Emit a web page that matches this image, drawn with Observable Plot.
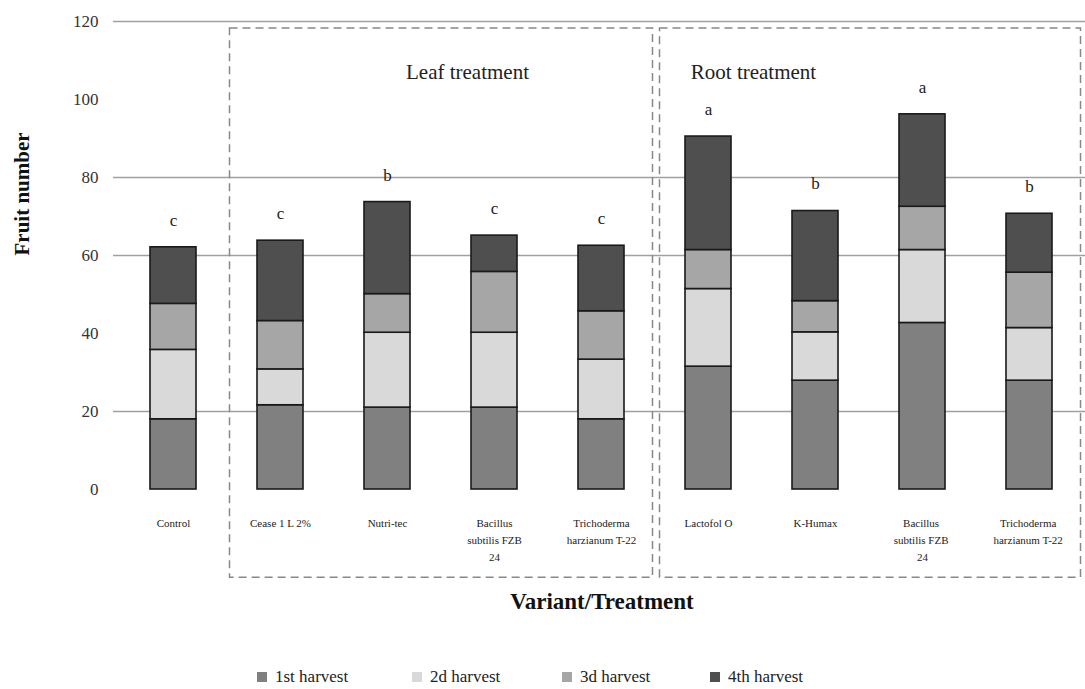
<!DOCTYPE html>
<html>
<head>
<meta charset="utf-8">
<script src="https://cdn.jsdelivr.net/npm/d3@7"></script>
<script src="https://cdn.jsdelivr.net/npm/@observablehq/plot@0.6"></script>
<style>
  body { margin: 0; background: #fff; font-family: "Liberation Serif", serif; }
  #wrap { position: relative; width: 1085px; height: 689px; }
  .leg { position: absolute; top: 667px; font-size: 17px; color: #222; white-space: nowrap; display: flex; align-items: center; }
  .sw { width: 10px; height: 10px; display: inline-block; margin-right: 8px; }
</style>
</head>
<body>
<div id="wrap"></div>
<script>
const categories = ["Control", "Cease 1 L 2%", "Nutri-tec", "Bacillus\nsubtilis FZB\n24", "Trichoderma\nharzianum T-22",
                    "Lactofol O", "K-Humax", "Bacillus \nsubtilis FZB \n24", "Trichoderma \nharzianum T-22 "];
const harvests = ["1st harvest", "2d harvest", "3d harvest", "4th harvest"];
const harvest1 = [18.0, 21.6, 21.0, 21.0, 18.0, 31.5, 27.9, 42.7, 27.9];
const harvest2 = [17.8, 9.2, 19.2, 19.2, 15.3, 19.9, 12.4, 18.7, 13.5];
const harvest3 = [11.8, 12.4, 9.9, 15.6, 12.4, 10.0, 8.0, 11.1, 14.2];
const harvest4 = [14.5, 20.6, 23.6, 9.3, 16.8, 29.1, 23.1, 23.7, 15.1];
const letters = ["c", "c", "b", "c", "c", "a", "b", "a", "b"];
const colors = ["#808080", "#d9d9d9", "#a6a6a6", "#4f4f4f"];
const yTicks = [0, 20, 40, 60, 80, 100, 120];
const gridValues = [20, 60, 80, 120];

const series = [harvest1, harvest2, harvest3, harvest4];
const data = [];
harvests.forEach((h, i) => categories.forEach((c, j) => data.push({cat: c, harvest: h, value: series[i][j]})));
const totals = categories.map((c, j) => ({cat: c, total: series.reduce((s, a) => s + a[j], 0), letter: letters[j]}));

const serif = "Liberation Serif, Times New Roman, serif";

const plot = Plot.plot({
  width: 1085,
  height: 650,
  marginTop: 21,
  marginBottom: 161,
  marginLeft: 118,
  marginRight: 0,
  style: {fontFamily: serif, background: "#fff", overflow: "visible"},
  x: {domain: categories, paddingInner: 0.57, paddingOuter: 0.285, axis: null},
  y: {domain: [0, 120], axis: null},
  color: {domain: harvests, range: colors},
  marks: [
    Plot.ruleY(gridValues, {insetLeft: -5, stroke: "#a0a0a0", strokeWidth: 1.5}),
    Plot.axisY({ticks: yTicks, tickSize: 0, tickPadding: 20, fontSize: 17, fill: "#333", label: null}),
    Plot.axisX({tickSize: 0, tickPadding: 25, fontSize: 11, lineHeight: 1.55, fill: "#222", label: null}),
    Plot.barY(data, {x: "cat", y: "value", fill: "harvest", stroke: "#1a1a1a", strokeWidth: 1.6, order: harvests}),
    Plot.text(totals, {x: "cat", y: "total", text: "letter", dy: -27, fontSize: 17, fill: "#222"}),
    Plot.text(["Leaf treatment"], {x: () => categories[2], y: () => 107, dx: 80, fontSize: 21, fill: "#222"}),
    Plot.text(["Root treatment"], {x: () => categories[5], y: () => 107, dx: 45, fontSize: 21, fill: "#222"}),
    Plot.text(["Fruit number"], {frameAnchor: "left", dx: -96, rotate: -90, fontSize: 21, fontWeight: "bold", fill: "#111"}),
    Plot.text(["Variant/Treatment"], {frameAnchor: "bottom", dy: 119, fontSize: 23, fontWeight: "bold", fill: "#111"})
  ]
});

// The dashed group boxes use the plot's own scales
const xs = plot.scale("x");
const ys = plot.scale("y");
const bw = xs.bandwidth;
const center = c => xs.apply(c) + bw / 2;
const step = center(categories[1]) - center(categories[0]);
const svg = d3.select(plot);
const boxTop = ys.apply(118.2), boxBottom = ys.apply(-22.6);
const groups = [
  {x1: center(categories[1]) - step / 2 + 3, x2: center(categories[4]) + step / 2 - 2},
  {x1: center(categories[5]) - step / 2 + 5, x2: center(categories[8]) + step / 2 - 2}
];
svg.append("g").selectAll("rect").data(groups).join("rect")
  .attr("x", d => d.x1).attr("y", boxTop)
  .attr("width", d => d.x2 - d.x1).attr("height", boxBottom - boxTop)
  .attr("fill", "none").attr("stroke", "#888").attr("stroke-width", 1.5)
  .attr("stroke-dasharray", "8,5");

const wrap = document.getElementById("wrap");
wrap.appendChild(plot);
const legLeft = [257, 412, 562, 710];
harvests.forEach((h, i) => {
  const d = document.createElement("div");
  d.className = "leg";
  d.style.left = legLeft[i] + "px";
  d.innerHTML = `<span class="sw" style="background:${colors[i]}"></span>${h}`;
  wrap.appendChild(d);
});
</script>
</body>
</html>
